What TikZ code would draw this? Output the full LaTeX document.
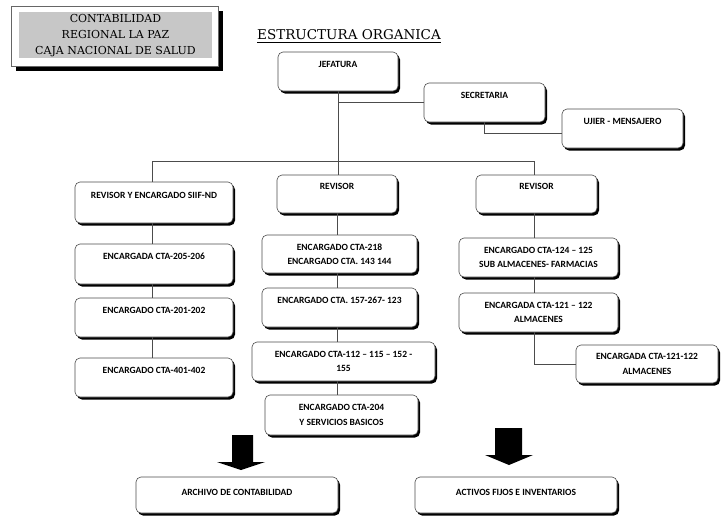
\documentclass[tikz,border=0pt]{standalone}
\usepackage{fontspec}
\setmainfont{Carlito}
\newfontfamily\titlefont{DejaVu Serif}
\usetikzlibrary{shadows,calc}
\begin{document}
\begin{tikzpicture}[x=1pt,y=-1pt,
  box/.style={draw=black!70, line width=0.6pt, fill=white, rounded corners=5pt,
    inner sep=0pt, align=center, font=\bfseries\fontsize{9.5}{14.5}\selectfont,
    drop shadow={shadow xshift=2pt, shadow yshift=-2.5pt, fill=black, opacity=1}},
  link/.style={draw=black!70, line width=0.6pt},
  bigarrow/.style={fill=black}]
\useasboundingbox (0,0) rectangle (723,515);

% title box
\fill[black] (16,11) rectangle (223,71);
\draw[fill=white, draw=black!60, line width=0.6pt] (11,6) rectangle (218,66);
\fill[black!22] (19,12) rectangle (212,58);
\node[font=\titlefont\fontsize{11}{16}\selectfont, align=center, inner sep=0pt] (title) at (115.5,36)
  {CONTABILIDAD\\REGIONAL LA PAZ\\CAJA NACIONAL DE SALUD};
\node[font=\titlefont\fontsize{13.5}{16}\selectfont, inner sep=0pt] (head) at (349,35)
  {ESTRUCTURA ORGANICA};
\draw[line width=0.6pt] ($(head.south west)+(0,1.5)$) -- ($(head.south east)+(0,1.5)$);

% top
\node[box, minimum width=120, minimum height=39] (jef) at (338,71.5) {JEFATURA\\\mbox{}};
\node[box, minimum width=121, minimum height=39] (sec) at (484.5,102.5) {SECRETARIA\\\mbox{}};
\node[box, minimum width=121, minimum height=39] (uji) at (622.5,128.5) {UJIER - MENSAJERO\\\mbox{}};

% left column
\node[box, minimum width=158, minimum height=41] (L0) at (154,202.5) {REVISOR Y ENCARGADO SIIF-ND\\\mbox{}};
\node[box, minimum width=158, minimum height=40] (L1) at (154,264) {ENCARGADA CTA-205-206\\\mbox{}};
\node[box, minimum width=158, minimum height=39] (L2) at (154,317.5) {ENCARGADO CTA-201-202\\\mbox{}};
\node[box, minimum width=158, minimum height=39] (L3) at (154,377.5) {ENCARGADO CTA-401-402\\\mbox{}};

% middle column
\node[box, minimum width=120, minimum height=38] (M0) at (337,194) {REVISOR\\\mbox{}};
\node[box, minimum width=155, minimum height=38] (M1) at (339.5,254) {ENCARGADO CTA-218\\ENCARGADO CTA. 143 144};
\node[box, minimum width=155, minimum height=39] (M2) at (339.5,307.5) {ENCARGADO CTA. 157-267- 123\\\mbox{}};
\node[box, minimum width=183, minimum height=39] (M3) at (343.5,361.5) {ENCARGADO CTA-112 -- 115 -- 152 -\\155};
\node[box, minimum width=153, minimum height=40] (M4) at (341.5,415) {ENCARGADO CTA-204\\Y SERVICIOS BASICOS};

% right column
\node[box, minimum width=121, minimum height=38] (R0) at (536.5,194) {REVISOR\\\mbox{}};
\node[box, minimum width=159, minimum height=39] (R1) at (538.5,257.5) {ENCARGADO CTA-124 -- 125\\SUB ALMACENES- FARMACIAS};
\node[box, minimum width=159, minimum height=39] (R2) at (538.5,312.5) {ENCARGADA CTA-121 -- 122\\ALMACENES};
\node[box, minimum width=142, minimum height=38] (R3) at (647,364) {ENCARGADA CTA-121-122\\ALMACENES};

% bottom
\node[box, minimum width=202, minimum height=36] (B1) at (237,495) {\raisebox{0pt}[0pt][0pt]{ARCHIVO DE CONTABILIDAD}};
\node[box, minimum width=202, minimum height=36] (B2) at (516,495) {\raisebox{0pt}[0pt][0pt]{ACTIVOS FIJOS E INVENTARIOS}};

% connectors
\draw[link] (jef.south) -- (jef.south |- M0.north);
\draw[link] (jef.south |- sec.west) -- (sec.west);
\draw[link] (sec.south) |- ([yshift=-4.5pt]uji.west);
\draw[link] ([xshift=-2pt]L0.north) -- ++(0,-20) -| ([xshift=-2.5pt]R0.north);
\draw[link] ([xshift=-2pt]L0.south) -- ([xshift=-2pt]L1.north);
\draw[link] ([xshift=-2pt]L1.south) -- ([xshift=-2pt]L2.north);
\draw[link] ([xshift=-2pt]L2.south) -- ([xshift=-2pt]L3.north);
\draw[link] (M0.south) -- (M0.south |- M1.north);
\draw[link] (M0.south |- M1.south) -- (M0.south |- M2.north);
\draw[link] (M0.south |- M2.south) -- (M0.south |- M3.north);
\draw[link] (M0.south |- M3.south) -- (M0.south |- M4.north);
\draw[link] ([xshift=-2.5pt]R0.south) -- ([xshift=-2.5pt]R0.south |- R1.north);
\draw[link] ([xshift=-2.5pt]R0.south |- R1.south) -- ([xshift=-2.5pt]R0.south |- R2.north);
\draw[link] ([xshift=-2.5pt]R0.south |- R2.south) |- (R3.west);

% block arrows
\fill[bigarrow] (232,435) -- (253,435) -- (253,462) -- (265,462) -- (241,470) -- (217,462) -- (232,462) -- cycle;
\fill[bigarrow] (495,428) -- (522,428) -- (522,455) -- (533,455) -- (509,465) -- (485,455) -- (495,455) -- cycle;
\end{tikzpicture}
\end{document}
